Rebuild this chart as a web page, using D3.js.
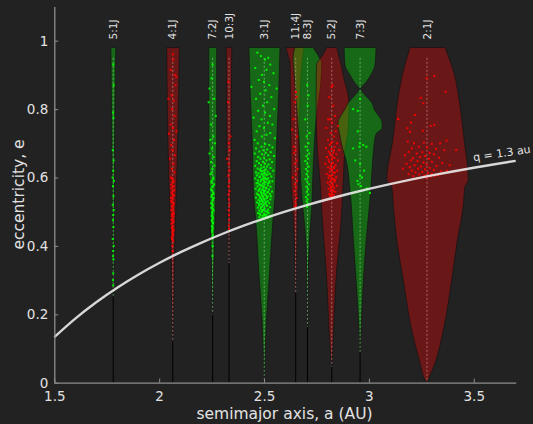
<!DOCTYPE html>
<html>
<head>
<meta charset="utf-8">
<script src="https://cdn.jsdelivr.net/npm/d3@7"></script>
<style>
  html, body { margin: 0; padding: 0; background: #222; }
  svg { display: block; font-family: "DejaVu Sans", sans-serif; }
</style>
</head>
<body>
<svg id="chart" width="533" height="424"></svg>
<script>
// Resonances with Jupiter
const resNames   = ['5:1J', '4:1J', '7:2J', '10:3J', '3:1J', '11:4J', '8:3J', '5:2J', '7:3J', '2:1J'];
const resCenters = [1.781, 2.065, 2.255, 2.333, 2.501, 2.651, 2.707, 2.823, 2.958, 3.277];
const resKinds   = ['g', 'r', 'g', 'r', 'g', 'r', 'g', 'r', 'g', 'r'];

// Libration zone outlines: [e, a left, a right]
const prof51 = [[0.98,1.770,1.793],[0.85,1.772,1.790],[0.7,1.775,1.787],[0.5,1.777,1.785],[0.3,1.779,1.783],[0.25,1.781,1.781]];
const prof41 = [[0.98,2.036,2.096],[0.85,2.038,2.093],[0.7,2.042,2.088],[0.5,2.051,2.079],[0.35,2.058,2.072],[0.2,2.062,2.068],[0.12,2.065,2.065]];
const prof72 = [[0.98,2.237,2.274],[0.7,2.237,2.274],[0.5,2.243,2.267],[0.35,2.249,2.261],[0.2,2.255,2.255]];
const prof103 = [[0.98,2.320,2.346],[0.7,2.323,2.343],[0.5,2.327,2.339],[0.35,2.333,2.333]];
const prof31 = [[0.98,2.428,2.576],[0.85,2.434,2.570],[0.7,2.444,2.560],[0.55,2.450,2.553],[0.48,2.460,2.543],[0.32,2.476,2.526],[0.18,2.491,2.511],[0,2.501,2.501]];
const prof114 = [[0.98,2.604,2.691],[0.958,2.614,2.686],[0.93,2.624,2.681],[0.83,2.626,2.672],[0.71,2.628,2.667],[0.59,2.629,2.665],[0.5,2.638,2.658],[0.4,2.646,2.656],[0.3,2.649,2.653],[0.26,2.651,2.651]];
const prof83 = [[0.98,2.646,2.734],[0.944,2.638,2.770],[0.938,2.639,2.775],[0.856,2.649,2.767],[0.827,2.653,2.760],[0.768,2.660,2.748],[0.71,2.667,2.741],[0.68,2.669,2.738],[0.593,2.675,2.732],[0.505,2.686,2.727],[0.446,2.696,2.719],[0.35,2.704,2.712],[0.164,2.707,2.707]];
const prof52 = [[0.98,2.799,2.847],[0.958,2.780,2.855],[0.929,2.750,2.868],[0.90,2.749,2.877],[0.818,2.748,2.905],[0.739,2.750,2.901],[0.68,2.754,2.886],[0.593,2.767,2.878],[0.505,2.775,2.871],[0.30,2.799,2.843],[0.105,2.815,2.828],[0.047,2.823,2.823]];
const prof73 = [[0.98,2.882,3.034],[0.929,2.886,3.029],[0.90,2.910,3.009],[0.87,2.942,2.974],[0.861,2.956,2.960],[0.841,2.934,2.982],[0.818,2.901,3.015],[0.80,2.886,3.025],[0.759,2.853,3.063],[0.745,2.855,3.063],[0.727,2.860,3.034],[0.68,2.877,3.022],[0.651,2.891,3.018],[0.563,2.910,3.009],[0.417,2.926,2.987],[0.271,2.942,2.971],[0.164,2.953,2.963],[0.087,2.958,2.958]];
const prof21 = [[0.98,3.196,3.363],[0.905,3.161,3.406],[0.807,3.133,3.435],[0.71,3.114,3.454],[0.593,3.085,3.474],[0.573,3.109,3.458],[0.515,3.117,3.450],[0.417,3.133,3.422],[0.30,3.164,3.395],[0.154,3.204,3.355],[0.057,3.244,3.315],[0.008,3.268,3.282],[0,3.277,3.277]];
const profiles = [prof51, prof41, prof72, prof103, prof31, prof114, prof83, prof52, prof73, prof21];

// Objects in each resonance: [a, e]
const pts51 = [[1.781,0.93],[1.783,0.87],[1.780,0.79],[1.782,0.775],[1.779,0.68],[1.783,0.65],[1.781,0.62],[1.778,0.60],[1.784,0.59],[1.780,0.575],[1.782,0.545],[1.779,0.52],[1.783,0.505],[1.781,0.49],[1.780,0.475],[1.782,0.455],[1.779,0.42],[1.783,0.40],[1.781,0.385],[1.780,0.37],[1.782,0.36],[1.781,0.32],[1.780,0.30],[1.781,0.285]];
const pts41 = [[2.066,0.96],[2.068,0.945],[2.055,0.915],[2.075,0.90],[2.082,0.895],[2.078,0.87],[2.060,0.84],[2.044,0.83],[2.070,0.825],[2.062,0.80],[2.073,0.78],[2.055,0.755],[2.066,0.745],[2.083,0.735],[2.047,0.728],[2.071,0.71],[2.058,0.695],[2.064,0.68],[2.075,0.665],[2.052,0.655],[2.068,0.64],[2.061,0.625],[2.072,0.615],[2.057,0.60],[2.066,0.592],[2.063,0.585],[2.070,0.575],[2.059,0.568],[2.067,0.56],[2.062,0.553],[2.071,0.547],[2.056,0.54],[2.065,0.535],[2.060,0.528],[2.068,0.52],[2.063,0.513],[2.058,0.505],[2.066,0.50],[2.070,0.495],[2.061,0.488],[2.064,0.48],[2.068,0.472],[2.059,0.465],[2.065,0.458],[2.062,0.45],[2.067,0.443],[2.064,0.435],[2.060,0.425],[2.066,0.415],[2.063,0.40],[2.065,0.385],
  [2.061,0.598],[2.069,0.588],[2.058,0.578],[2.064,0.571],[2.072,0.563],[2.060,0.556],[2.067,0.549],[2.063,0.542],[2.057,0.531],[2.069,0.525],[2.061,0.517],[2.066,0.509],[2.062,0.493],[2.067,0.486],[2.059,0.476],[2.064,0.468],[2.061,0.455],[2.068,0.448],[2.063,0.44],[2.066,0.43],[2.061,0.42]];
const pts72 = [[2.255,0.93],[2.250,0.89],[2.240,0.86],[2.262,0.83],[2.236,0.82],[2.270,0.78],[2.248,0.755],[2.258,0.72],[2.244,0.71],[2.266,0.70],[2.252,0.685],[2.240,0.67],[2.259,0.66],[2.247,0.645],[2.263,0.635],[2.254,0.625],[2.245,0.61],[2.258,0.60],[2.250,0.59],[2.262,0.58],[2.253,0.572],[2.247,0.565],[2.257,0.556],[2.251,0.548],[2.260,0.54],[2.254,0.532],[2.248,0.525],[2.256,0.518],[2.252,0.51],[2.259,0.503],[2.254,0.495],[2.250,0.488],[2.256,0.48],[2.253,0.472],[2.257,0.465],[2.251,0.458],[2.255,0.45],[2.253,0.44],[2.256,0.432],[2.254,0.425],[2.255,0.40],[2.254,0.37],
  [2.251,0.615],[2.258,0.595],[2.249,0.585],[2.256,0.575],[2.252,0.562],[2.259,0.552],[2.250,0.543],[2.256,0.535],[2.253,0.522],[2.249,0.512],[2.257,0.507],[2.252,0.498],[2.255,0.485],[2.251,0.475],[2.257,0.468],[2.254,0.455],[2.252,0.445]];
const pts103 = [[2.330,0.88],[2.328,0.82],[2.340,0.72],[2.333,0.70],[2.336,0.68],[2.323,0.655],[2.331,0.64],[2.335,0.62],[2.329,0.605],[2.334,0.59],[2.331,0.575],[2.336,0.56],[2.330,0.55],[2.333,0.535],[2.335,0.52],[2.331,0.505],[2.333,0.49],[2.334,0.475],[2.332,0.46],[2.333,0.45]];
const pts31 = [[2.468,0.965],[2.485,0.955],[2.505,0.945],[2.520,0.95],[2.530,0.93],[2.458,0.92],[2.512,0.915],[2.545,0.905],[2.490,0.90],[2.475,0.885],[2.500,0.88],[2.525,0.87],[2.440,0.865],[2.560,0.86],[2.508,0.855],[2.482,0.845],[2.535,0.835],[2.462,0.83],[2.515,0.82],[2.495,0.81],[2.548,0.80],[2.472,0.795],[2.505,0.79],[2.528,0.78],[2.450,0.775],[2.488,0.77],[2.518,0.76],[2.540,0.755],[2.478,0.75],[2.500,0.745],[2.465,0.735],[2.530,0.73],[2.512,0.725],[2.490,0.72],[2.552,0.715],[2.455,0.71],
  [2.470,0.70],[2.505,0.698],[2.525,0.695],[2.488,0.69],[2.540,0.688],[2.462,0.685],[2.515,0.682],[2.497,0.68],
  [2.478,0.676],[2.532,0.674],[2.508,0.672],[2.456,0.67],[2.490,0.668],[2.520,0.665],[2.548,0.663],[2.472,0.66],[2.500,0.658],[2.483,0.655],[2.527,0.653],[2.512,0.65],
  [2.465,0.648],[2.495,0.646],[2.538,0.645],[2.476,0.642],[2.505,0.64],[2.522,0.638],[2.486,0.636],[2.458,0.634],[2.514,0.632],[2.498,0.63],[2.531,0.628],[2.470,0.626],[2.508,0.624],[2.481,0.622],[2.544,0.62],[2.492,0.619],[2.517,0.617],[2.462,0.615],
  [2.501,0.614],[2.474,0.612],[2.527,0.611],[2.488,0.609],[2.512,0.607],[2.466,0.606],[2.496,0.604],[2.535,0.603],[2.479,0.601],[2.505,0.6],[2.520,0.598],[2.458,0.597],[2.490,0.595],[2.513,0.594],[2.471,0.592],[2.499,0.591],[2.540,0.589],[2.483,0.588],[2.508,0.586],[2.526,0.585],[2.464,0.583],[2.494,0.582],[2.477,0.58],
  [2.503,0.579],[2.518,0.577],[2.487,0.576],[2.469,0.574],[2.531,0.573],[2.497,0.571],[2.510,0.57],[2.480,0.568],[2.460,0.567],[2.524,0.565],[2.492,0.564],[2.506,0.562],[2.473,0.561],[2.538,0.559],[2.485,0.558],[2.515,0.556],[2.499,0.555],[2.466,0.553],[2.528,0.552],[2.490,0.55],[2.476,0.548],[2.509,0.547],[2.520,0.545],[2.483,0.544],[2.496,0.542],[2.462,0.541],
  [2.512,0.539],[2.488,0.537],[2.530,0.536],[2.474,0.534],[2.502,0.533],[2.517,0.531],[2.481,0.53],[2.494,0.528],[2.467,0.527],[2.524,0.525],[2.507,0.523],[2.486,0.522],[2.498,0.52],[2.476,0.518],[2.515,0.517],[2.491,0.515],[2.529,0.513],[2.470,0.512],[2.503,0.51],[2.484,0.508],[2.519,0.506],[2.496,0.505],[2.478,0.503],[2.508,0.501],
  [2.489,0.499],[2.522,0.497],[2.472,0.496],[2.500,0.494],[2.513,0.492],[2.483,0.49],[2.495,0.488],[2.526,0.487],[2.507,0.485],[2.478,0.484],[2.517,0.483],[2.492,0.482],
  [2.485,0.627],[2.503,0.621],[2.493,0.611],[2.516,0.609],[2.480,0.603],[2.509,0.596],[2.487,0.593],[2.502,0.587],[2.519,0.583],[2.483,0.578],[2.495,0.574],[2.511,0.568],[2.477,0.564],[2.500,0.56],[2.520,0.558],[2.488,0.554],[2.506,0.551],[2.494,0.546],[2.515,0.542],[2.480,0.54],[2.501,0.537],[2.490,0.532],[2.509,0.528],[2.476,0.524],[2.497,0.521],[2.513,0.518],[2.485,0.513],[2.500,0.507],[2.490,0.503],[2.515,0.5],[2.480,0.494],[2.505,0.49],[2.493,0.565],[2.525,0.59],[2.470,0.585],[2.505,0.612],[2.497,0.598],[2.472,0.55],[2.533,0.545],[2.486,0.618]];
const pts114 = [[2.652,0.85],[2.655,0.835],[2.648,0.82],[2.640,0.77],[2.633,0.74],[2.657,0.72],[2.642,0.69],[2.650,0.68],[2.644,0.672],[2.655,0.65],[2.647,0.64],[2.660,0.625],[2.652,0.61],[2.637,0.60],[2.657,0.59],[2.648,0.58],[2.653,0.57],[2.645,0.56],[2.651,0.55],[2.656,0.54],[2.649,0.53],[2.652,0.52],[2.647,0.515]];
const pts83 = [[2.706,0.87],[2.712,0.84],[2.708,0.81],[2.696,0.77],[2.717,0.73],[2.703,0.72],[2.712,0.70],[2.698,0.69],[2.708,0.68],[2.715,0.67],[2.702,0.662],[2.710,0.655],[2.697,0.648],[2.706,0.64],[2.713,0.632],[2.700,0.625],[2.708,0.618],[2.703,0.61],[2.711,0.602],[2.698,0.595],[2.706,0.588],[2.714,0.58],[2.702,0.573],[2.709,0.566],[2.704,0.558],[2.711,0.55],[2.700,0.543],[2.707,0.536],[2.703,0.53],[2.709,0.523],[2.705,0.515]];
const pts52 = [[2.827,0.87],[2.822,0.865],[2.812,0.835],[2.830,0.81],[2.838,0.78],[2.815,0.77],[2.806,0.77],[2.853,0.75],[2.823,0.76],[2.797,0.745],[2.842,0.735],[2.818,0.73],[2.833,0.72],
  [2.805,0.71],[2.826,0.705],[2.848,0.70],[2.813,0.695],[2.836,0.69],[2.795,0.686],[2.822,0.683],[2.858,0.68],[2.808,0.676],[2.830,0.672],[2.845,0.668],[2.817,0.665],[2.800,0.66],[2.836,0.657],[2.824,0.653],[2.852,0.65],[2.811,0.646],[2.829,0.643],[2.792,0.64],[2.841,0.636],[2.818,0.633],[2.806,0.63],[2.833,0.627],[2.824,0.623],[2.849,0.62],[2.813,0.617],[2.838,0.614],[2.799,0.61],[2.827,0.607],[2.816,0.604],[2.844,0.601],[2.808,0.598],[2.831,0.595],[2.821,0.592],[2.836,0.588],[2.803,0.585],[2.826,0.582],[2.813,0.579],[2.847,0.576],[2.819,0.573],[2.834,0.57],[2.808,0.567],[2.827,0.564],[2.816,0.561],[2.840,0.558],[2.823,0.555],[2.811,0.552],[2.832,0.549],[2.820,0.546],[2.828,0.543],
  [2.820,0.70],[2.834,0.679],[2.815,0.671],[2.827,0.661],[2.808,0.652],[2.821,0.639],[2.835,0.631],[2.817,0.625],[2.829,0.615],[2.811,0.606],[2.823,0.598],[2.838,0.593],[2.815,0.588],[2.829,0.577],[2.819,0.568],[2.832,0.56],[2.822,0.551],[2.814,0.545]];
const pts73 = [[2.958,0.83],[2.925,0.80],[2.947,0.795],[2.947,0.735],[2.925,0.685],[2.957,0.70],[2.955,0.69],[2.973,0.695],[2.988,0.69],[2.935,0.65],[2.958,0.64],[2.977,0.62],[2.958,0.605],[2.967,0.6],[2.945,0.59],[2.990,0.568],[3.005,0.555],[2.962,0.575],[2.950,0.58]];
const pts21 = [[3.276,0.89],[3.312,0.897],[3.366,0.851],[3.247,0.833],[3.260,0.817],[3.140,0.771],[3.201,0.761],[3.220,0.783],[3.183,0.744],[3.196,0.734],[3.295,0.751],[3.312,0.754],[3.257,0.737],[3.371,0.708],[3.416,0.680],
  [3.185,0.705],[3.215,0.70],[3.262,0.702],[3.300,0.698],[3.340,0.70],[3.238,0.69],[3.278,0.688],[3.205,0.685],[3.320,0.684],[3.360,0.68],[3.190,0.675],[3.255,0.674],[3.290,0.672],[3.228,0.67],[3.310,0.668],[3.172,0.665],[3.268,0.663],[3.245,0.66],[3.335,0.658],[3.210,0.656],[3.287,0.655],[3.200,0.65],[3.232,0.648],[3.300,0.646],[3.260,0.644],[3.350,0.642],[3.180,0.64],[3.275,0.638],[3.218,0.636],[3.322,0.634],[3.248,0.632],[3.195,0.63],[3.290,0.628],[3.235,0.626],[3.268,0.624],[3.310,0.622],[3.205,0.62],[3.345,0.618],[3.255,0.616],[3.222,0.615],[3.282,0.613],[3.300,0.611],[3.190,0.61],[3.240,0.609],[3.330,0.607],[3.265,0.606],[3.212,0.604],[3.295,0.603],[3.372,0.62],[3.385,0.636],[3.162,0.626],[3.230,0.598],[3.275,0.6],[3.315,0.605]];
const points = [pts51, pts41, pts72, pts103, pts31, pts114, pts83, pts52, pts73, pts21];

// Perihelion line q = 1.3 au
const qValue = 1.3;
const aSamples = [1.5, 1.6, 1.7, 1.8, 1.9, 2.0, 2.1, 2.2, 2.3, 2.4, 2.5, 2.6, 2.7, 2.8, 2.9, 3.0, 3.1, 3.2, 3.3, 3.4, 3.5, 3.6, 3.7];
const xTicks = [1.5, 2, 2.5, 3, 3.5];
const yTicks = [0, 0.2, 0.4, 0.6, 0.8, 1];

const COLORS = {
  g: { fill: '#00ff00', dot: '#00ff00', dash: '#8ee08e' },
  r: { fill: '#ff0000', dot: '#ff0000', dash: '#e39a9a' },
};
const textColor = '#e2e2e2';
const axisColor = '#8e8e8e';

const svg = d3.select('#chart');
svg.append('rect').attr('width', 533).attr('height', 424).attr('fill', '#222');

const x = d3.scaleLinear().domain([1.5, 3.7]).range([54.3, 515.7]);
const y = d3.scaleLinear().domain([0, 1.1]).range([382.7, 6.5]);

// Black stems below each zone
const bottomE = profiles.map(p => p[p.length - 1][0]);
svg.append('g').selectAll('line')
  .data(resCenters)
  .join('line')
  .attr('x1', d => x(d)).attr('x2', d => x(d))
  .attr('y1', y(0)).attr('y2', (d, i) => y(bottomE[i]))
  .attr('stroke', '#000').attr('stroke-width', 1);

// Libration zones
const area = d3.area()
  .y(d => y(d[0]))
  .x0(d => x(d[1]))
  .x1(d => x(d[2]))
  .curve(d3.curveMonotoneY);

svg.append('g').selectAll('path')
  .data(profiles)
  .join('path')
  .attr('d', d => area(d))
  .attr('fill', (d, i) => COLORS[resKinds[i]].fill)
  .attr('fill-opacity', 0.32)
  .attr('stroke', '#111')
  .attr('stroke-opacity', 0.8)
  .attr('stroke-width', 0.8);

// Dashed centre lines
svg.append('g').selectAll('line')
  .data(resCenters)
  .join('line')
  .attr('x1', d => x(d)).attr('x2', d => x(d))
  .attr('y1', y(0.95)).attr('y2', (d, i) => y(bottomE[i]))
  .attr('stroke', (d, i) => COLORS[resKinds[i]].dash)
  .attr('stroke-opacity', 0.75)
  .attr('stroke-width', 0.8)
  .attr('stroke-dasharray', '2,2');

// Objects
const dots = svg.append('g');
points.forEach((pts, i) => {
  dots.append('g').selectAll('rect')
    .data(pts)
    .join('rect')
    .attr('x', d => x(d[0]) - 1)
    .attr('y', d => y(d[1]) - 1)
    .attr('width', 2).attr('height', 2)
    .attr('fill', COLORS[resKinds[i]].dot)
    .attr('fill-opacity', 0.9);
});

// q = 1.3 au curve
const qLine = d3.line()
  .x(a => x(a))
  .y(a => y(1 - qValue / a))
  .curve(d3.curveMonotoneX);

svg.append('path')
  .attr('d', qLine(aSamples))
  .attr('fill', 'none')
  .attr('stroke', '#f0f0f0')
  .attr('stroke-opacity', 0.88)
  .attr('stroke-width', 2.4);

const qa = 3.5;
svg.append('text')
  .attr('transform', `translate(${x(qa)},${y(1 - qValue / qa) - 6.5}) rotate(-8.5)`)
  .attr('fill', textColor)
  .attr('font-size', 11)
  .text('q = 1.3 au');

// Axes, ticks pointing inward
const yAxis = svg.append('g')
  .attr('transform', `translate(${x(1.5)},0)`)
  .call(d3.axisLeft(y).tickValues(yTicks).tickFormat(d => d)
    .tickSizeInner(-4).tickSizeOuter(0).tickPadding(6));

const xAxis = svg.append('g')
  .attr('transform', `translate(0,${y(0)})`)
  .call(d3.axisBottom(x).tickValues(xTicks).tickFormat(d => d)
    .tickSizeInner(-4).tickSizeOuter(0).tickPadding(9));

[xAxis, yAxis].forEach(ax => {
  ax.select('.domain').attr('stroke', axisColor).attr('stroke-width', 1.3);
  ax.selectAll('.tick line').attr('stroke', axisColor);
  ax.selectAll('.tick text')
    .attr('fill', textColor)
    .attr('font-size', 13.5)
    .attr('font-family', '"DejaVu Sans", sans-serif');
});

// Resonance labels, read bottom to top, ending just above the zones
svg.append('g').selectAll('text')
  .data(resNames)
  .join('text')
  .attr('transform', (d, i) => `translate(${x(resCenters[i])},39.5) rotate(-90)`)
  .attr('dy', '0.35em')
  .attr('text-anchor', 'start')
  .attr('fill', textColor)
  .attr('font-size', 10.5)
  .text(d => d);

// Axis titles
svg.append('text')
  .attr('transform', 'translate(24,194.5) rotate(-90)')
  .attr('text-anchor', 'middle')
  .attr('fill', textColor)
  .attr('font-size', 15.5)
  .text('eccentricity, e');

svg.append('text')
  .attr('x', 284.5).attr('y', 418.5)
  .attr('text-anchor', 'middle')
  .attr('fill', textColor)
  .attr('font-size', 15.5)
  .text('semimajor axis, a (AU)');
</script>
</body>
</html>
